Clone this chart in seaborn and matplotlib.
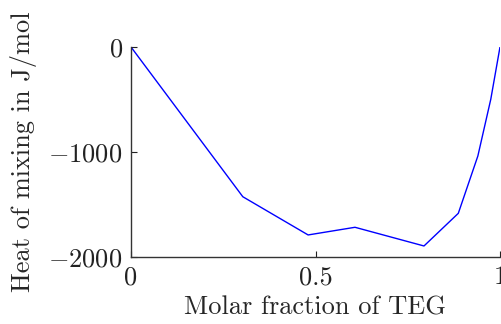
import matplotlib
matplotlib.use("Agg")
import matplotlib.pyplot as plt
import seaborn as sns
import pandas as pd

x_frac = [0.0, 0.303, 0.480, 0.607, 0.794, 0.887, 0.940, 0.975, 1.0]
heat = [0.0, -1426, -1790, -1717, -1895, -1584, -1038, -498, 0.0]
x_ticks = [0, 0.5, 1]
x_tick_labels = ["0", "0.5", "1"]
y_ticks = [-2000, -1000, 0]
y_tick_labels = ["$-2000$", "$-1000$", "$0$"]

sns.set_style("ticks")
plt.rcParams["font.family"] = "serif"
plt.rcParams["font.serif"] = ["cmr10"]
plt.rcParams["mathtext.fontset"] = "cm"
plt.rcParams["axes.formatter.use_mathtext"] = True
plt.rcParams["axes.unicode_minus"] = True

df = pd.DataFrame({"x": x_frac, "y": heat})

fig = plt.figure(figsize=(5.02, 3.24), dpi=100)
ax = fig.add_axes([131/502, 1-257/324, 369/502, 210/324])
sns.lineplot(data=df, x="x", y="y", ax=ax, color="#0000ff", linewidth=1.0, sort=False)
ax.set_xlim(0, 1)
ax.set_ylim(-2000, 0)
ax.set_xticks(x_ticks)
ax.set_xticklabels(x_tick_labels)
ax.set_yticks(y_ticks)
ax.set_yticklabels(y_tick_labels)
sns.despine(ax=ax)
for s in ["left", "bottom"]:
    ax.spines[s].set_color("#333333")
    ax.spines[s].set_linewidth(1.0)
ax.tick_params(direction="in", length=4, width=0.8, labelsize=19, colors="#222222", pad=6)
ax.set_xlabel("Molar fraction of TEG", fontsize=19, labelpad=5)
ax.set_ylabel("Heat of mixing in J/mol", fontsize=19, labelpad=8)
fig.savefig("out.png", dpi=100)
